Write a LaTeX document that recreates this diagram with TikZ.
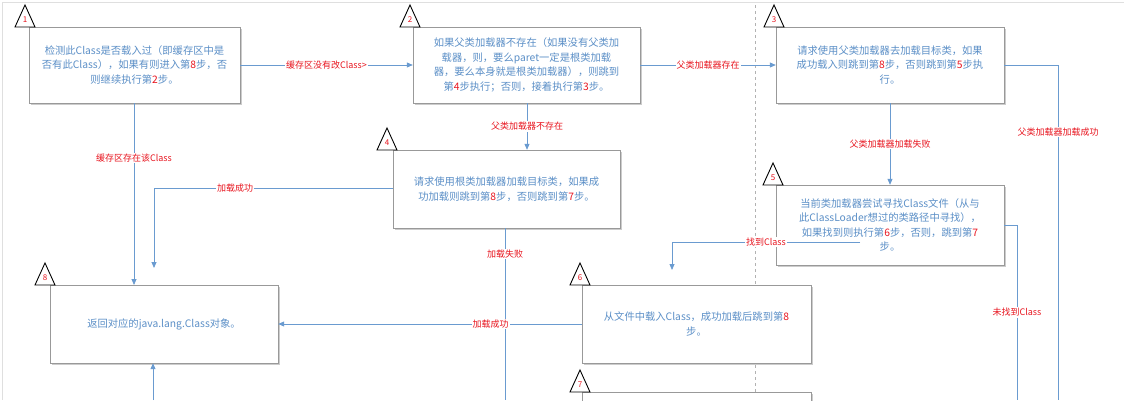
\documentclass[tikz,border=0pt]{standalone}
\usepackage{fontspec}
\setmainfont{Noto Sans CJK SC}
\usetikzlibrary{shadows,arrows.meta}
\definecolor{tb}{HTML}{5B8FC7}
\definecolor{ln}{HTML}{6A9BD0}
\definecolor{rd}{HTML}{E8141E}
\newcommand{\R}[1]{\textcolor{rd}{#1}}
\tikzset{
 box/.style={draw=gray!80,fill=white,drop shadow={shadow xshift=2pt,shadow yshift=-2pt,opacity=0.4},minimum height=76pt,align=center,text=tb,font=\fontsize{10.3}{14.5}\selectfont,inner sep=2pt},
 conn/.style={draw=ln,line width=0.8pt},
 arr/.style={conn,-{Triangle[length=6pt,width=5pt]}},
 lab/.style={fill=white,text=rd,font=\fontsize{9}{11}\selectfont,inner sep=1pt},
 tri/.style={draw=black,fill=white,line width=0.9pt},
}
\begin{document}
\begin{tikzpicture}[x=1pt,y=-1pt]
\useasboundingbox (0,0) rectangle (1126,400);
\draw[gray!25] (2,2) -- (1124,2) (2,2) -- (2,400);
\draw[gray!60,dashed,line width=0.8pt] (755,5) -- (755,400);
% nodes
\node[box,minimum width=211pt] (n1) at (134.5,65) {检测此Class是否载入过（即缓存区中是\\否有此Class），如果有则进入第\R{8}步，否\\则继续执行第\R{2}步。};
\node[box,minimum width=227pt] (n2) at (526.5,65) {如果父类加载器不存在（如果没有父类加\\载器，则，要么paret一定是根类加载\\器，要么本身就是根类加载器），则跳到\\第\R{4}步执行；否则，接着执行第\R{3}步。};
\node[box,minimum width=228pt] (n3) at (890,65) {请求使用父类加载器去加载目标类，如果\\成功载入则跳到第\R{8}步，否则跳到第\R{5}步执\\行。};
\node[box,minimum width=227pt,minimum height=78pt] (n4) at (506.5,189) {请求使用根类加载器加载目标类，如果成\\功加载则跳到第\R{8}步，否则跳到第\R{7}步。};
\node[box,minimum width=228pt,minimum height=80pt] (n5) at (890,225) {当前类加载器尝试寻找Class文件（从与\\此ClassLoader想过的类路径中寻找），\\如果找到则执行第\R{6}步，否则，跳到第\R{7}\\步。};
\node[box,minimum width=229pt,minimum height=78pt] (n6) at (696.5,324) {从文件中载入Class，成功加载后跳到第\R{8}\\步。};
\node[box,minimum width=229pt,minimum height=78pt,anchor=north] (n7) at (696.5,392) {};
\node[box,minimum width=228pt,minimum height=78pt] (n8) at (164,324) {返回对应的java.lang.Class对象。};
% triangles
\foreach \x/\y/\t in {15/27/1,400/27/2,764/27/3,377/150/4,763/185/5,570/285/6,570/392/7,35/285/8}{
 \draw[tri] (\x,\y) -- (\x+20,\y) -- (\x+10,\y-22) -- cycle;
 \node[text=rd,font=\fontsize{8}{8}\selectfont,inner sep=0pt] at (\x+10,\y-7) {\t};
}
% coordinates
\coordinate (a1) at (134,285);
\coordinate (c4a) at (154,188);
\coordinate (c4b) at (154,268);
\coordinate (c4d) at (505,400);
\coordinate (c3a) at (1058,65);
\coordinate (c3b) at (1058,400);
\coordinate (c5a) at (860,242);
\coordinate (c5b) at (672,242);
\coordinate (c5c) at (672,270);
\coordinate (c5d) at (1017,225);
\coordinate (c5e) at (1017,400);
\coordinate (c8b) at (153,400);
% connectors
\draw[arr] (n1.east) -- node[lab]{缓存区没有改Class>} (n2.west);
\draw[arr] (n2.east) -- node[lab]{父类加载器存在} (n3.west);
\draw[arr] (n2.south -| 527,0) -- node[lab]{父类加载器不存在} (n4.north -| 527,0);
\draw[arr] (n1.south -| a1) -- node[lab,pos=0.3]{缓存区存在该Class} (a1);
\draw[arr] (n4.west |- c4a) -- node[lab,pos=0.66]{加载成功} (c4a) -- (c4b);
\draw[conn] (n4.south -| c4d) -- node[lab,pos=0.15]{加载失败} (c4d);
\draw[arr] (n6.west) -- node[lab,pos=0.3]{加载成功} (n8.east);
\draw[arr] (n3.south) -- node[lab]{父类加载器加载失败} (n5.north);
\draw[conn] (n3.east) -- (c3a) -- node[lab,pos=0.2]{父类加载器加载成功} (c3b);
\draw[arr] (c5a) -- node[lab,pos=0.5]{找到Class} (c5b) -- (c5c);
\draw[conn] (n5.east |- c5d) -- (c5d) -- node[lab,pos=0.5]{未找到Class} (c5e);
\draw[arr] (c8b) -- (n8.south -| c8b);
\end{tikzpicture}
\end{document}
